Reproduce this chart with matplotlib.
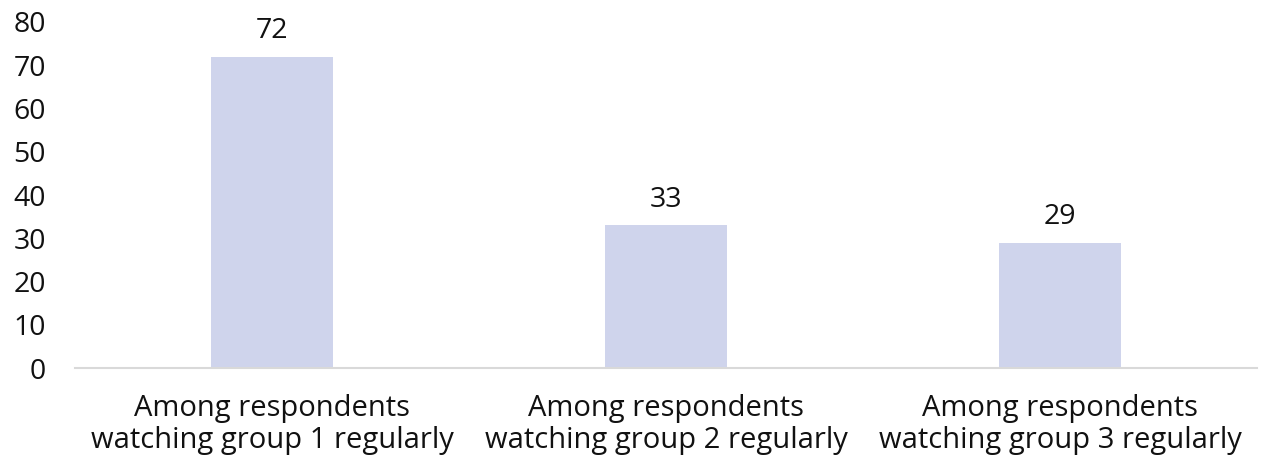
import matplotlib.pyplot as plt

categories = ["Among respondents\nwatching group 1 regularly",
              "Among respondents\nwatching group 2 regularly",
              "Among respondents\nwatching group 3 regularly"]
values = [72, 33, 29]
y_ticks = [0, 10, 20, 30, 40, 50, 60, 70, 80]

plt.rcParams['font.family'] = ['Open Sans', 'DejaVu Sans']

fig = plt.figure(figsize=(12.66, 4.61), dpi=100)
ax = fig.add_axes([75 / 1266, 1 - 368 / 461, (1257 - 75) / 1266, (368 - 22) / 461])

x = range(len(values))
bars = ax.bar(x, values, width=0.31, color='#cfd4ec', zorder=2)
for b, v in zip(bars, values):
    ax.text(b.get_x() + b.get_width() / 2, v + 2.6, str(v),
            ha='center', va='bottom', fontsize=20.5, color='#111111')

ax.set_xlim(-0.5, len(values) - 0.5)
ax.set_ylim(0, 80)
ax.set_yticks(y_ticks)
ax.set_xticks(list(x))
ax.set_xticklabels(categories, fontsize=21, color='#111111', linespacing=1.1)
ax.tick_params(axis='y', length=0, pad=21, labelsize=20.5, labelcolor='#111111')
ax.tick_params(axis='x', length=0, pad=19)

for side in ['left', 'right', 'top']:
    ax.spines[side].set_visible(False)
ax.spines['bottom'].set_color('#d9d9d9')
ax.spines['bottom'].set_linewidth(1.5)

fig.savefig('out.png', dpi=100)
